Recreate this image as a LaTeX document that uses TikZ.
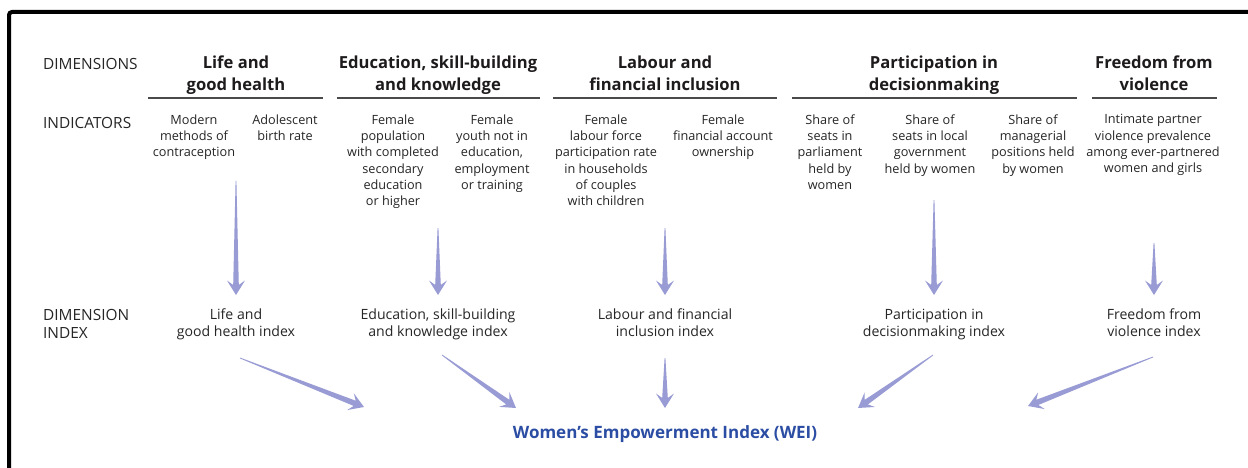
\documentclass[tikz,border=0pt]{standalone}
\usepackage{fontspec}
\setmainfont{Open Sans}
\usetikzlibrary{calc}

\definecolor{txtgrey}{HTML}{262626}
\definecolor{headblack}{HTML}{1E1B1C}
\definecolor{weiblue}{HTML}{2B4DA3}
\definecolor{wedgecol}{HTML}{989BD4}
\definecolor{rulegrey}{HTML}{4A4A4A}

% Tapered arrow from #1 (thin tail) to #2 (tip)
\newcommand\taperarrow[2]{%
  \fill[wedgecol] let \p1=(#1), \p2=(#2),
      \n1={atan2(\y2-\y1,\x2-\x1)}, \n2={veclen(\x2-\x1,\y2-\y1)} in
    [shift={(\p1)}, rotate=\n1]
    (0pt,0.4pt) -- ({(\n2-10)*1pt},2.8pt) -- ({(\n2-14.5)*1pt},9pt)
    -- ({\n2*1pt},0pt)
    -- ({(\n2-14.5)*1pt},-9pt) -- ({(\n2-10)*1pt},-2.8pt) -- (0pt,-0.4pt) -- cycle;
}

\begin{document}
\begin{tikzpicture}[x=1pt,y=-1pt,
  rowlbl/.style={inner sep=0pt, anchor=north west, align=left, text=txtgrey,
    font=\fontsize{15.4}{18}\selectfont, execute at begin node=\rule{0pt}{13pt}},
  dimhead/.style={inner sep=0pt, anchor=north, align=center, text=headblack,
    font=\fontsize{16.6}{21.5}\selectfont\bfseries, execute at begin node=\rule{0pt}{13pt}},
  indic/.style={inner sep=0pt, anchor=north, align=center, text=txtgrey,
    font=\fontsize{12.7}{16.3}\selectfont, execute at begin node=\rule{0pt}{13pt}},
  idx/.style={inner sep=0pt, anchor=north, align=center, text=txtgrey,
    font=\fontsize{14.1}{17}\selectfont, execute at begin node=\rule{0pt}{13pt}},
  wei/.style={inner sep=0pt, anchor=north, align=center, text=weiblue,
    font=\fontsize{17}{20}\selectfont\bfseries, execute at begin node=\rule{0pt}{13pt}},
  headrule/.style={draw=rulegrey, line width=1.4pt},
]
\useasboundingbox[fill=white] (0,0) rectangle (1248,468);

% frame
\draw[line width=4pt, rounded corners=3pt] (9,470) -- (9,12) -- (1250,12);

% row labels
\node[rowlbl] (lblDim) at (43,56) {DIMENSIONS};
\node[rowlbl] (lblInd) at (43,115) {INDICATORS};
\node[rowlbl] (lblIdx) at (43,309) {DIMENSION\\INDEX};

% dimension headings
\node[dimhead] (hLife) at (236,56) {Life and\\good health};
\node[dimhead] (hEdu)  at (438,56) {Education, skill-building\\and knowledge};
\node[dimhead] (hLab)  at (665,56) {Labour and\\financial inclusion};
\node[dimhead] (hPar)  at (934,56) {Participation in\\decisionmaking};
\node[dimhead] (hFree) at (1154,56) {Freedom from\\violence};

\draw[headrule] (148,98) -- (323,98);
\draw[headrule] (337,98) -- (540,98);
\draw[headrule] (553,98) -- (777,98);
\draw[headrule] (792,98) -- (1077,98);
\draw[headrule] (1092,98) -- (1217,98);

% indicators
\node[indic] (iMod)  at (194,114.3) {Modern\\methods of\\contraception};
\node[indic] (iAdo)  at (285,114.3) {Adolescent\\birth rate};
\node[indic] (iSec)  at (393,114.3) {Female\\population\\with completed\\secondary\\education\\or higher};
\node[indic] (iNeet) at (492,114.3) {Female\\youth not in\\education,\\employment\\or training};
\node[indic] (iLfp)  at (606,114.3) {Female\\labour force\\participation rate\\in households\\of couples\\with children};
\node[indic] (iFin)  at (723,114.3) {Female\\financial account\\ownership};
\node[indic] (iParl) at (830,114.3) {Share of\\seats in\\parliament\\held by\\women};
\node[indic] (iLoc)  at (930,114.3) {Share of\\seats in local\\government\\held by women};
\node[indic] (iMgr)  at (1033,114.3) {Share of\\managerial\\positions held\\by women};
\node[indic] (iIpv)  at (1153,114.3) {Intimate partner\\violence prevalence\\among ever-partnered\\women and girls};

% dimension indices
\node[idx] (xLife) at (236,308.7) {Life and\\good health index};
\node[idx] (xEdu)  at (438,308.7) {Education, skill-building\\and knowledge index};
\node[idx] (xLab)  at (665,308.7) {Labour and financial\\inclusion index};
\node[idx] (xPar)  at (934,308.7) {Participation in\\decisionmaking index};
\node[idx] (xFree) at (1154,308.7) {Freedom from\\violence index};

% composite index
\node[wei] (wei) at (665,425) {Women’s Empowerment Index (WEI)};

% arrow ends: indicators -> indices
\coordinate (aLifeT) at (236,181);  \coordinate (aLifeH) at (236,295);
\coordinate (aEduT)  at (438,228);  \coordinate (aEduH)  at (438,295);
\coordinate (aLabT)  at (665,228);  \coordinate (aLabH)  at (665,295);
\coordinate (aParT)  at (934,200);  \coordinate (aParH)  at (934,295);
\coordinate (aFreeT) at (1154,243); \coordinate (aFreeH) at (1154,295);
% arrow ends: indices -> WEI
\coordinate (bLifeT) at (240,358);  \coordinate (bLifeH) at (364,407);
\coordinate (bEduT)  at (442,355);  \coordinate (bEduH)  at (516,408);
\coordinate (bLabT)  at (665,358);  \coordinate (bLabH)  at (665,408);
\coordinate (bParT)  at (933,355);  \coordinate (bParH)  at (858,408);
\coordinate (bFreeT) at (1153,357); \coordinate (bFreeH) at (1028,406);

\taperarrow{aLifeT}{aLifeH}
\taperarrow{aEduT}{aEduH}
\taperarrow{aLabT}{aLabH}
\taperarrow{aParT}{aParH}
\taperarrow{aFreeT}{aFreeH}
\taperarrow{bLifeT}{bLifeH}
\taperarrow{bEduT}{bEduH}
\taperarrow{bLabT}{bLabH}
\taperarrow{bParT}{bParH}
\taperarrow{bFreeT}{bFreeH}
\end{tikzpicture}
\end{document}
